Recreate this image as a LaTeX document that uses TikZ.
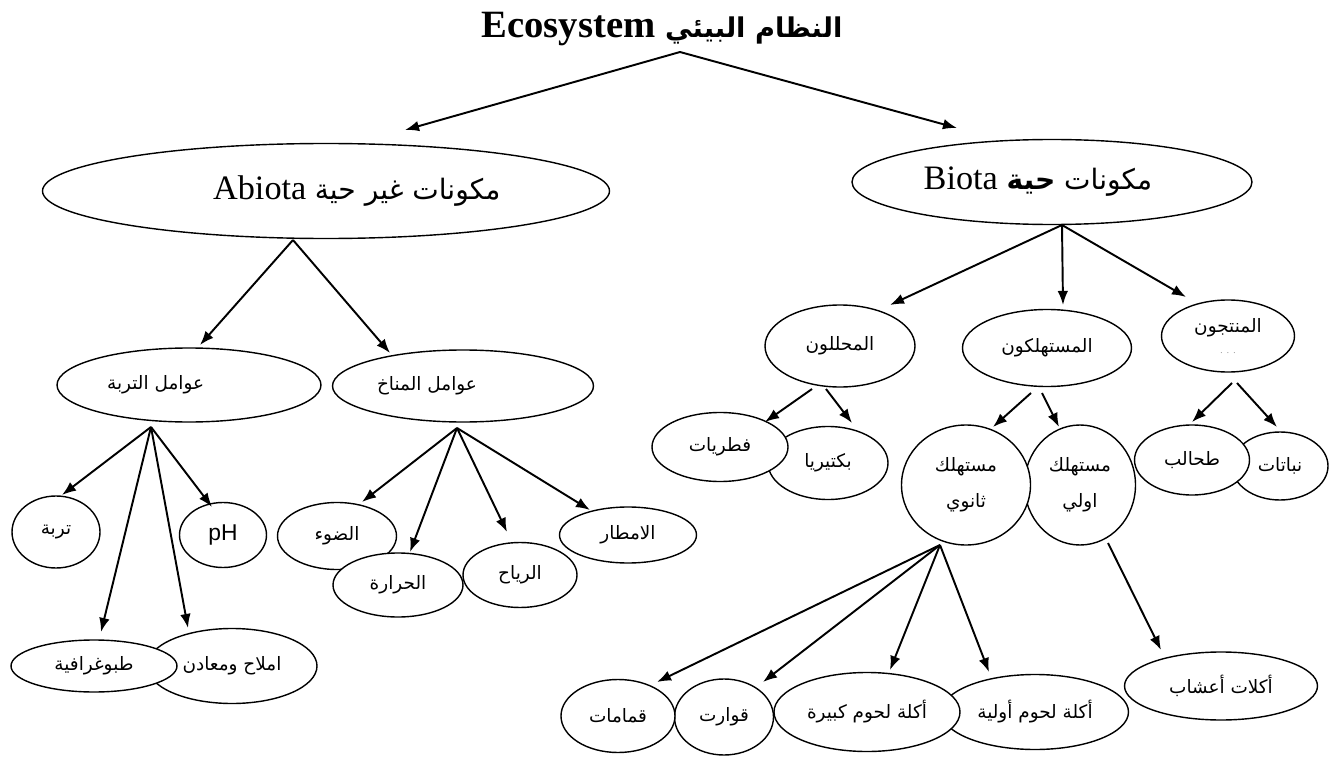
\documentclass[tikz,border=0pt]{standalone}
\usepackage{fontspec}
\setmainfont{Liberation Serif}
\newfontfamily\arfont[Script=Arabic]{DejaVu Sans}
\newfontfamily\phfont{Liberation Sans}
\TeXXeTstate=1
\usetikzlibrary{calc,shapes.geometric,arrows.meta}
\newcommand{\artxt}[1]{{\arfont\beginR #1\endR}}

\begin{document}
\begin{tikzpicture}[x=0.02cm, y=-0.02cm,
    ell/.style 2 args={ellipse, draw, fill=white, line width=0.8pt, inner sep=0pt,
      minimum width=#1*0.02cm, minimum height=#2*0.02cm, font=\fontsize{10.5}{12.5}\selectfont},
    arr/.style={-{Latex[length=8pt,width=6pt]}, line width=1.1pt}]
  \useasboundingbox (0,0) rectangle (1333,757);

  \node (eco) at (662,29) {\fontsize{22}{26}\selectfont\bfseries Ecosystem {\fontsize{15.5}{20}\selectfont\artxt{النظام البيئي}}};

  % abiota side
  \node[ell={567}{95}] (abiota) at (326,191) {\kern35pt\fontsize{19.5}{22}\selectfont Abiota {\fontsize{16}{20}\selectfont\artxt{مكونات غير حية}}};
  \node[ell={400}{85}] (biota) at (1052,182) {\fontsize{19.5}{22}\selectfont Biota {\fontsize{16}{20}\selectfont\artxt{مكونات {\bfseries حية}}}\kern16pt};

  \node[ell={264}{74}] (soil) at (189,385) {\artxt{عوامل التربة}\kern38pt};
  \node[ell={261}{72}] (climate) at (463,386) {\artxt{عوامل المناخ}\kern41pt};

  \node[ell={88}{72}] (turba) at (56,532) {\artxt{تربة}};
  \node[ell={87}{65}] (ph) at (223,535) {\phfont\fontsize{13}{15}\selectfont pH};
  \node[ell={170}{75}] (salts) at (232,666) {\artxt{املاح ومعادن}};
  \node[ell={166}{52}] (topo) at (94,666) {\artxt{طبوغرافية}};

  \node[ell={119}{67}] (light) at (337,536) {\artxt{الضوء}};
  \node[ell={130}{64}] (heat) at (398,585) {\artxt{الحرارة}};
  \node[ell={114}{65}] (wind) at (520,575) {\artxt{الرياح}};
  \node[ell={137}{56}] (rain) at (628,535) {\artxt{الامطار}};

  % biota side
  \node[ell={150}{82}] (decomp) at (840,346) {\artxt{المحللون}};
  \node[ell={169}{77}] (consum) at (1047,348) {\artxt{المستهلكون}};
  \node[ell={133}{72}, align=center] (produc) at (1228,336) {\artxt{المنتجون}\\[-1pt]{\color{gray}\fontsize{5}{5}\selectfont .\ \ .\ \ .}};

  \node[ell={120}{73}] (bact) at (828,463) {\artxt{بكتيريا}};
  \node[ell={136}{69}] (fungi) at (720,447) {\artxt{فطريات}};
  \node[ell={111}{120}, align=center] (prim) at (1080,485) {\artxt{مستهلك}\\[8pt]\artxt{اولي}};
  \node[ell={129}{120}, align=center] (second) at (966,485) {\artxt{مستهلك}\\[8pt]\artxt{ثانوي}};
  \node[ell={96}{68}] (plants) at (1280,466) {\artxt{نباتات}};
  \node[ell={115}{70}] (algae) at (1192,460) {\artxt{طحالب}};

  \node[ell={187}{75}] (pcarn) at (1035,712) {\artxt{أكلة لحوم أولية}};
  \node[ell={186}{79}] (bcarn) at (867,712) {\artxt{أكلة لحوم كبيرة}};
  \node[ell={99}{76}] (omni) at (724,717) {\artxt{قوارت}};
  \node[ell={114}{73}] (scav) at (618,716) {\artxt{قمامات}};
  \node[ell={193}{68}] (herb) at (1221,686) {\artxt{أكلات أعشاب}};

  % arrows
  \draw[arr] ($(eco.center)+(18,23)$) -- ($(abiota.center)+(79,-61)$);
  \draw[arr] ($(eco.center)+(18,23)$) -- ($(biota.center)+(-95,-54)$);
  \draw[arr] ($(abiota.center)+(-33,49)$) -- ($(soil.center)+(11,-40)$);
  \draw[arr] ($(abiota.center)+(-33,49)$) -- ($(climate.center)+(-73,-33)$);
  \foreach \n/\dx/\dy in {turba/6/-37, ph/-11/-28, topo/7/-34, salts/-44/-38}
    \draw[arr] ($(soil.center)+(-38,42)$) -- ($(\n.center)+(\dx,\dy)$);
  \foreach \n/\dx/\dy in {light/25/-34, heat/12/-33, wind/-13/-43, rain/-38/-25}
    \draw[arr] ($(climate.center)+(-6,42)$) -- ($(\n.center)+(\dx,\dy)$);
  \foreach \n/\dx/\dy in {decomp/50/-41, consum/16/-43, produc/-42/-39}
    \draw[arr] ($(biota.center)+(10,43)$) -- ($(\n.center)+(\dx,\dy)$);
  \draw[arr] ($(decomp.center)+(-28,43)$) -- ($(fungi.center)+(45,-25)$);
  \draw[arr] ($(decomp.center)+(-14,43)$) -- ($(bact.center)+(24,-40)$);
  \draw[arr] ($(consum.center)+(-16,45)$) -- ($(second.center)+(27,-58)$);
  \draw[arr] ($(consum.center)+(-5,45)$) -- ($(prim.center)+(-21,-58)$);
  \draw[arr] ($(produc.center)+(4,47)$) -- ($(algae.center)+(0,-38)$);
  \draw[arr] ($(produc.center)+(9,47)$) -- ($(plants.center)+(-3,-39)$);
  \foreach \n/\dx/\dy in {scav/39/-34, omni/39/-35, bcarn/23/-42, pcarn/-46/-40}
    \draw[arr] ($(second.center)+(-26,60)$) -- ($(\n.center)+(\dx,\dy)$);
  \draw[arr] ($(prim.center)+(28,58)$) -- ($(herb.center)+(-60,-36)$);
\end{tikzpicture}
\end{document}
